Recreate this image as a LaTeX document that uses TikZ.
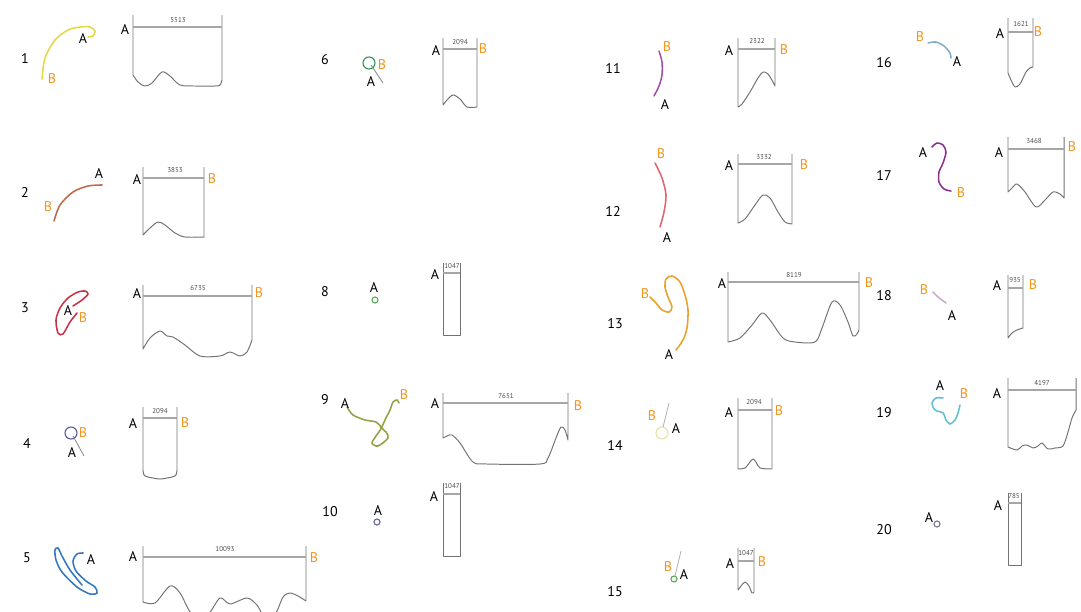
\documentclass[tikz,border=0pt]{standalone}
\usepackage{fontspec}
\setmainfont{PT Sans}
\usepackage{tikz}
\usetikzlibrary{positioning}
\definecolor{borange}{RGB}{240,150,30}
\definecolor{cyellow}{RGB}{228,215,70}
\definecolor{cbrown}{RGB}{190,105,70}
\definecolor{cred}{RGB}{200,50,70}
\definecolor{cviolet}{RGB}{90,90,170}
\definecolor{cblue}{RGB}{50,120,190}
\definecolor{cgreen}{RGB}{50,150,90}
\definecolor{clgreen}{RGB}{90,170,90}
\definecolor{colive}{RGB}{150,160,70}
\definecolor{cslate}{RGB}{100,100,160}
\definecolor{cpurple}{RGB}{160,80,170}
\definecolor{cpink}{RGB}{225,100,110}
\definecolor{corange}{RGB}{235,160,40}
\definecolor{cpale}{RGB}{235,225,165}
\definecolor{csky}{RGB}{130,175,200}
\definecolor{cplum}{RGB}{140,50,140}
\definecolor{clilac}{RGB}{200,170,200}
\definecolor{ccyan}{RGB}{100,190,210}
\definecolor{cgrey}{RGB}{120,120,140}
\tikzset{
  lbl/.style={font=\fontsize{10}{12}\selectfont, inner sep=0pt},
  enda/.style={lbl, text=black},
  endb/.style={lbl, text=borange},
  idx/.style={lbl},
  len/.style={font=\fontsize{5}{6}\selectfont, inner sep=0pt, text=black!70},
  rod/.style={line width=1.8pt, draw=black!35},
  wall/.style={line width=0.7pt, draw=black!55, line join=round},
  strand/.style={line width=1.1pt, line cap=round},
  ring/.style={line width=0.8pt},
  stalk/.style={line width=0.6pt, draw=black!45},
}

\begin{document}
\begin{tikzpicture}[x=0.025cm, y=-0.025cm]
  \useasboundingbox (0,0) rectangle (1081,612);

  % 1
  \node[idx] (i1) at (25,58) {1};
  \draw[strand, cyellow] plot[smooth] coordinates {(42,79) (45,58) (55,40) (68,30) (80,27) (90,27) (95,31) (93,36) (88,37)};
  \node[enda] (a1) at (83,38) {A};
  \node[endb] (b1) at (52,79) {B};
  \draw[wall] (133,15) -- plot[smooth] coordinates {(133,75) (138,82) (145,86) (152,83) (162,72) (170,76) (180,85) (195,86) (215,86) (220,85) (222,80)} -- (222,15);
  \draw[rod] (133,27) -- (222,27);
  \node[enda] (p1) at (125,29) {A};
  \node[len] (l1) at (178,20) {5513};

  % 2
  \node[idx] (i2) at (25,192) {2};
  \draw[strand, cbrown] plot[smooth] coordinates {(54,221) (60,205) (73,192) (88,186) (102,185)};
  \node[enda] (a2) at (99,173) {A};
  \node[endb] (b2) at (48,207) {B};
  \draw[wall] (143,167) -- plot[smooth] coordinates {(143,235) (150,228) (158,222) (165,225) (175,233) (185,237) (204,237)} -- (204,167);
  \draw[rod] (143,178) -- (204,178);
  \node[enda] (p2) at (137,179) {A};
  \node[endb] (q2) at (212,179) {B};
  \node[len] (l2) at (175,170) {3853};

  % 3
  \node[idx] (i3) at (25,308) {3};
  \draw[strand, cred] plot[smooth] coordinates {(73,306) (82,300) (88,294) (85,291) (78,292) (68,298) (60,308) (56,320) (58,333) (63,334) (70,322) (77,313)};
  \node[enda] (a3) at (68,310) {A};
  \node[endb] (b3) at (83,318) {B};
  \draw[wall] (143,285) -- plot[smooth] coordinates {(143,349) (150,338) (160,331) (167,336) (173,337) (185,345) (200,356) (220,356) (230,352) (240,356) (247,352) (252,340)} -- (252,285);
  \draw[rod] (143,296) -- (252,296);
  \node[enda] (p3) at (137,293) {A};
  \node[endb] (q3) at (259,293) {B};
  \node[len] (l3) at (198,288) {6735};

  % 4
  \node[idx] (i4) at (27,443) {4};
  \draw[ring, cviolet] (71,433) circle (6);
  \draw[stalk] (73,436) -- (84,456);
  \node[enda] (a4) at (72,452) {A};
  \node[endb] (b4) at (83,433) {B};
  \draw[wall] (143,407) -- plot[smooth] coordinates {(143,470) (144,475) (148,477) (160,479) (172,477) (176,475) (177,470)} -- (177,407);
  \draw[rod] (143,418) -- (177,418);
  \node[enda] (p4) at (133,423) {A};
  \node[endb] (q4) at (185,423) {B};
  \node[len] (l4) at (160,411) {2094};

  % 5
  \node[idx] (i5) at (27,558) {5};
  \draw[strand, cblue] plot[smooth] coordinates {(82,585) (70,570) (62,556) (58,548) (55,550) (56,560) (62,572) (77,587) (90,594) (97,593) (95,587) (86,581) (76,571) (73,561) (77,554) (83,553)};
  \node[enda] (a5) at (91,559) {A};
  \draw[wall] (143,546) -- plot[smooth] coordinates {(143,602) (155,603) (170,586) (180,593) (192,614) (208,614) (220,598) (230,604) (247,598) (257,605) (263,614) (275,614) (283,597) (290,593) (298,596) (306,601)} -- (306,546);
  \draw[rod] (143,557) -- (306,557);
  \node[enda] (p5) at (133,556) {A};
  \node[endb] (q5) at (314,558) {B};
  \node[len] (l5) at (225,549) {10093};

  % 6
  \node[idx] (i6) at (325,60) {6};
  \draw[ring, cgreen] (369,63) circle (6);
  \draw[stalk] (371,65) -- (383,83);
  \node[enda] (a6) at (371,81) {A};
  \node[endb] (b6) at (382,65) {B};
  \draw[wall] (443,38) -- plot[smooth] coordinates {(443,105) (447,100) (453,95) (460,99) (467,107) (477,107)} -- (477,38);
  \draw[rod] (443,49) -- (477,49);
  \node[enda] (p6) at (436,50) {A};
  \node[endb] (q6) at (483,49) {B};
  \node[len] (l6) at (460,42) {2094};

  % 8
  \node[idx] (i8) at (325,292) {8};
  \node[enda] (a8) at (374,287) {A};
  \draw[ring, clgreen] (375,300) circle (3);
  \draw[wall] (443,263) -- (443,335) -- (460,335) -- (460,263);
  \draw[rod] (443,273) -- (460,273);
  \node[enda] (p8) at (435,274) {A};
  \node[len] (l8) at (452,266) {1047};

  % 9
  \node[idx] (i9) at (325,400) {9};
  \draw[strand, colive] plot[smooth] coordinates {(347,407) (353,415) (365,420) (376,422) (381,428) (376,436) (372,443) (378,446) (388,438) (386,432) (382,428) (385,420) (390,410) (393,402) (397,400) (399,403)};
  \node[enda] (a9) at (345,403) {A};
  \node[endb] (b9) at (404,395) {B};
  \draw[wall] (443,393) -- plot[smooth] coordinates {(443,438) (447,436) (452,435) (460,443) (473,462) (487,464) (540,464) (548,458) (556,438) (561,427) (565,430) (568,440)} -- (568,393);
  \draw[rod] (443,403) -- (568,403);
  \node[enda] (p9) at (435,403) {A};
  \node[endb] (q9) at (578,406) {B};
  \node[len] (l9) at (506,396) {7651};

  % 10
  \node[idx] (i10) at (330,512) {10};
  \node[enda] (a10) at (378,510) {A};
  \draw[ring, cslate] (377,522) circle (3);
  \draw[wall] (443,483) -- (443,556) -- (460,556) -- (460,483);
  \draw[rod] (443,494) -- (460,494);
  \node[enda] (p10) at (434,496) {A};
  \node[len] (l10) at (452,486) {1047};

  % 11
  \node[idx] (i11) at (613,68) {11};
  \draw[strand, cpurple] plot[smooth] coordinates {(659,51) (662,62) (662,75) (659,86) (654,96)};
  \node[endb] (b11) at (667,47) {B};
  \node[enda] (a11) at (665,104) {A};
  \draw[wall] (738,38) -- plot[smooth] coordinates {(738,107) (742,104) (750,92) (758,78) (763,72) (768,74) (773,82) (775,86)} -- (775,38);
  \draw[rod] (738,49) -- (775,49);
  \node[enda] (p11) at (729,50) {A};
  \node[endb] (q11) at (784,50) {B};
  \node[len] (l11) at (757,41) {2322};

  % 12
  \node[idx] (i12) at (613,211) {12};
  \draw[strand, cpink] plot[smooth] coordinates {(655,163) (662,178) (666,195) (664,212) (660,227)};
  \node[endb] (b12) at (661,154) {B};
  \node[enda] (a12) at (667,237) {A};
  \draw[wall] (738,154) -- plot[smooth] coordinates {(738,223) (745,219) (755,205) (763,195) (770,198) (778,212) (785,222) (792,224)} -- (792,154);
  \draw[rod] (738,164) -- (792,164);
  \node[enda] (p12) at (729,165) {A};
  \node[endb] (q12) at (804,165) {B};
  \node[len] (l12) at (764,157) {3332};

  % 13
  \node[idx] (i13) at (615,324) {13};
  \draw[strand, corange] plot[smooth] coordinates {(650,297) (656,303) (662,310) (669,312) (672,307) (668,297) (665,287) (666,279) (672,276) (680,282) (685,295) (688,310) (687,328) (683,340) (676,350)};
  \node[endb] (b13) at (645,294) {B};
  \node[enda] (a13) at (669,354) {A};
  \draw[wall] (728,272) -- plot[smooth] coordinates {(728,342) (740,338) (752,325) (762,313) (770,320) (783,338) (795,342) (815,342) (822,328) (832,302) (840,305) (848,322) (853,336) (857,334) (859,330)} -- (859,272);
  \draw[rod] (728,282) -- (859,282);
  \node[enda] (p13) at (722,283) {A};
  \node[endb] (q13) at (869,283) {B};
  \node[len] (l13) at (794,275) {8119};

  % 14
  \node[idx] (i14) at (615,445) {14};
  \draw[ring, cpale] (662,433) circle (6);
  \draw[stalk, black!30] (663,427) -- (669,403);
  \node[endb] (b14) at (652,416) {B};
  \node[enda] (a14) at (676,428) {A};
  \draw[wall] (738,398) -- plot[smooth] coordinates {(738,469) (745,468) (750,462) (753,459) (756,462) (760,468) (772,469)} -- (772,398);
  \draw[rod] (738,410) -- (772,410);
  \node[enda] (p14) at (729,412) {A};
  \node[endb] (q14) at (779,411) {B};
  \node[len] (l14) at (754,402) {2094};

  % 15
  \node[idx] (i15) at (615,592) {15};
  \draw[ring, clgreen] (674,579) circle (3);
  \draw[stalk, black!30] (675,576) -- (681,551);
  \node[endb] (b15) at (668,567) {B};
  \node[enda] (a15) at (684,574) {A};
  \draw[wall] (738,548) -- plot[smooth] coordinates {(738,590) (741,586) (745,582) (749,586) (752,593) (754,592)} -- (754,548);
  \draw[rod] (738,561) -- (754,561);
  \node[enda] (p15) at (730,563) {A};
  \node[endb] (q15) at (762,562) {B};
  \node[len] (l15) at (746,553) {1047};

  % 16
  \node[idx] (i16) at (884,63) {16};
  \draw[strand, csky] plot[smooth] coordinates {(928,43) (936,42) (944,46) (950,53) (951,58)};
  \node[endb] (b16) at (920,37) {B};
  \node[enda] (a16) at (957,61) {A};
  \draw[wall] (1008,18) -- plot[smooth] coordinates {(1008,73) (1011,80) (1015,87) (1020,84) (1026,72) (1030,68) (1033,67)} -- (1033,18);
  \draw[rod] (1008,32) -- (1033,32);
  \node[enda] (p16) at (1000,33) {A};
  \node[endb] (q16) at (1038,32) {B};
  \node[len] (l16) at (1021,24) {1621};

  % 17
  \node[idx] (i17) at (884,175) {17};
  \draw[strand, cplum] plot[smooth] coordinates {(932,147) (937,143) (943,145) (946,152) (943,163) (939,172) (939,182) (944,189) (951,191)};
  \node[enda] (a17) at (923,152) {A};
  \node[endb] (b17) at (961,193) {B};
  \draw[wall] (1008,137) -- plot[smooth] coordinates {(1008,192) (1012,188) (1017,184) (1025,192) (1036,207) (1045,200) (1053,192) (1060,194) (1064,198)} -- (1064,137);
  \draw[rod] (1008,149) -- (1064,149);
  \node[enda] (p17) at (999,152) {A};
  \node[endb] (q17) at (1072,147) {B};
  \node[len] (l17) at (1034,141) {3468};

  % 18
  \node[idx] (i18) at (884,296) {18};
  \draw[strand, clilac] plot[smooth] coordinates {(933,292) (938,297) (946,303)};
  \node[endb] (b18) at (924,290) {B};
  \node[enda] (a18) at (952,315) {A};
  \draw[wall] (1008,275) -- plot[smooth] coordinates {(1008,338) (1012,333) (1017,330) (1023,328)} -- (1023,275);
  \draw[rod] (1008,288) -- (1023,288);
  \node[enda] (p18) at (997,285) {A};
  \node[endb] (q18) at (1033,285) {B};
  \node[len] (l18) at (1015,280) {935};

  % 19
  \node[idx] (i19) at (884,413) {19};
  \draw[strand, ccyan] plot[smooth] coordinates {(943,398) (936,398) (932,403) (935,410) (943,413) (946,420) (950,424) (955,420) (958,413) (960,405)};
  \node[enda] (a19) at (940,385) {A};
  \node[endb] (b19) at (964,394) {B};
  \draw[wall] (1008,378) -- plot[smooth] coordinates {(1008,447) (1017,450) (1022,446) (1027,445) (1033,448) (1038,446) (1042,443) (1048,449) (1055,448) (1063,446) (1068,432) (1072,418) (1076,410)} -- (1076,378);
  \draw[rod] (1008,390) -- (1076,390);
  \node[enda] (p19) at (997,393) {A};
  \node[len] (l19) at (1042,383) {4197};

  % 20
  \node[idx] (i20) at (884,530) {20};
  \node[enda] (a20) at (929,517) {A};
  \draw[ring, cgrey] (937,524) circle (3);
  \draw[wall] (1008,493) -- (1008,565) -- (1021,565) -- (1021,493);
  \draw[rod] (1008,503) -- (1021,503);
  \node[enda] (p20) at (998,505) {A};
  \node[len] (l20) at (1014,496) {785};
\end{tikzpicture}
\end{document}
